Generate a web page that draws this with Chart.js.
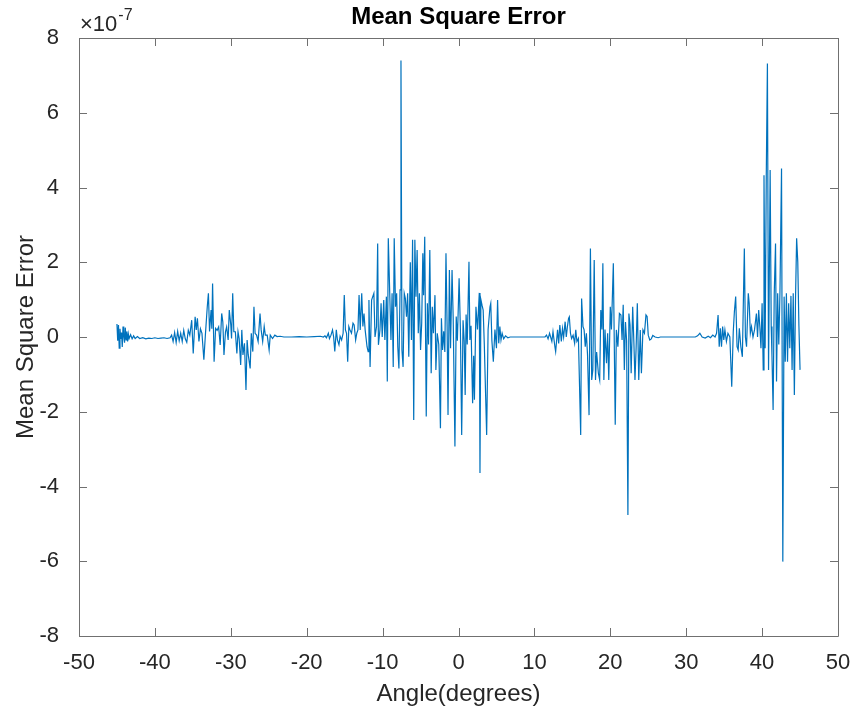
<!DOCTYPE html>
<html>
<head>
<meta charset="utf-8">
<script src="https://cdn.jsdelivr.net/npm/chart.js@4.4.1/dist/chart.umd.min.js"></script>
<style>
  html, body { margin: 0; padding: 0; background: #ffffff; }
  #wrap { width: 855px; height: 716px; }
</style>
</head>
<body>
<div id="wrap"><canvas id="chart" width="855" height="716"></canvas></div>
<script>
// Scan angle in degrees
const angles = [
  -45.0,-44.9,-44.8,-44.7,-44.6,-44.5,-44.4,-44.3,-44.2,-44.1,-44.0,-43.9,-43.8,-43.7,-43.6,-43.5,-43.4,-43.2,-43.0,-42.8,
  -42.6,-42.3,-42.0,-41.6,-41.2,-40.8,-40.4,-40.0,-39.6,-39.2,-38.8,-38.4,-38.0,-37.8,-37.6,-37.4,-37.2,-37.0,-36.8,-36.6,
  -36.4,-36.2,-36.0,-35.8,-35.6,-35.4,-35.15,-34.95,-34.7,-34.55,-34.4,-34.2,-34.0,-33.8,-33.55,-33.35,-33.1,-32.95,-32.8,-32.6,
  -32.5,-32.4,-32.2,-32.0,-31.8,-31.6,-31.4,-31.2,-31.05,-30.9,-30.7,-30.55,-30.35,-30.2,-30.0,-29.9,-29.75,-29.6,-29.4,-29.2,
  -29.05,-28.9,-28.7,-28.55,-28.4,-28.2,-28.0,-27.85,-27.7,-27.45,-27.3,-27.1,-26.95,-26.8,-26.6,-26.4,-26.15,-26.0,-25.8,-25.6,
  -25.45,-25.2,-24.95,-24.8,-24.5,-24.2,-23.9,-23.5,-23.0,-22.0,-21.0,-20.0,-19.0,-18.2,-17.8,-17.6,-17.4,-17.15,-17.0,-16.8,
  -16.6,-16.45,-16.3,-16.1,-15.95,-15.75,-15.6,-15.4,-15.2,-15.05,-14.9,-14.75,-14.6,-14.45,-14.3,-14.1,-13.9,-13.75,-13.55,-13.4,
  -13.25,-13.1,-12.95,-12.75,-12.6,-12.45,-12.3,-12.2,-12.05,-11.9,-11.8,-11.65,-11.45,-11.3,-11.15,-11.0,-10.8,-10.65,-10.55,-10.35,
  -10.2,-10.05,-9.85,-9.7,-9.5,-9.38,-9.25,-9.05,-8.9,-8.75,-8.6,-8.47,-8.3,-8.15,-8.0,-7.85,-7.7,-7.58,-7.45,-7.3,
  -7.15,-7.0,-6.85,-6.7,-6.55,-6.35,-6.2,-6.05,-5.9,-5.75,-5.6,-5.45,-5.3,-5.15,-5.0,-4.85,-4.7,-4.6,-4.45,-4.25,
  -4.1,-3.95,-3.78,-3.6,-3.45,-3.3,-3.1,-2.98,-2.8,-2.6,-2.38,-2.25,-2.1,-1.95,-1.8,-1.65,-1.5,-1.38,-1.2,-1.05,
  -0.85,-0.7,-0.47,-0.3,-0.15,0.08,0.25,0.42,0.6,0.75,0.88,1.0,1.15,1.38,1.5,1.65,1.86,2.0,2.1,2.3,
  2.5,2.74,2.83,2.95,3.1,3.25,3.4,3.71,3.9,4.15,4.25,4.4,4.59,4.8,5.0,5.15,5.3,5.45,5.6,5.75,
  5.95,6.2,6.5,6.8,7.5,8.5,9.5,10.5,11.4,11.6,11.8,12.0,12.3,12.45,12.7,12.8,13.05,13.2,13.35,13.55,
  13.7,13.85,14.05,14.2,14.35,14.5,14.6,14.75,14.9,15.1,15.3,15.45,15.6,15.8,16.1,16.22,16.4,16.55,16.7,16.85,
  17.0,17.2,17.38,17.55,17.7,17.88,18.05,18.2,18.43,18.6,18.75,18.9,19.02,19.15,19.3,19.5,19.65,19.8,20.0,20.15,
  20.4,20.65,20.8,21.0,21.2,21.4,21.55,21.7,21.85,22.0,22.15,22.32,22.45,22.6,22.75,22.95,23.1,23.25,23.4,23.56,
  23.75,23.95,24.1,24.3,24.5,24.7,24.85,25.0,25.2,25.4,25.6,25.9,26.3,26.6,27.5,28.5,29.5,30.5,31.2,31.5,
  31.8,32.1,32.5,32.9,33.2,33.5,33.8,34.0,34.2,34.35,34.5,34.65,34.8,34.95,35.1,35.3,35.5,35.75,36.0,36.2,
  36.35,36.52,36.7,36.85,37.0,37.2,37.4,37.66,37.8,37.95,38.18,38.3,38.45,38.6,38.8,39.0,39.25,39.4,39.55,39.7,
  39.85,40.0,40.15,40.25,40.4,40.55,40.7,40.85,41.06,41.2,41.3,41.45,41.6,41.77,41.9,42.05,42.2,42.35,42.56,42.73,
  42.9,43.05,43.2,43.35,43.5,43.65,43.8,43.95,44.1,44.25,44.4,44.55,44.7,44.85,45.0
];

// Mean square error at each angle, in units of 1e-7
const mseE7 = [
  0.35,-0.10,0.32,-0.30,0.22,-0.05,0.12,-0.27,0.28,0.02,-0.15,0.25,-0.08,0.15,-0.12,0.08,-0.04,0.06,-0.05,0.03,
  -0.04,0.01,-0.04,-0.02,-0.05,-0.03,-0.04,-0.02,-0.04,-0.03,-0.02,-0.04,-0.02,0.05,-0.12,0.12,-0.15,0.15,-0.10,0.10,
  -0.12,0.18,-0.05,-0.14,0.18,0.05,0.45,-0.44,0.54,0.19,0.50,-0.12,0.22,0.10,-0.61,0.05,0.81,1.17,0.15,0.72,
  0.22,1.43,-0.66,0.23,0.18,0.27,-0.21,0.63,0.40,-0.48,0.14,0.27,-0.08,0.72,0.32,-0.04,1.17,0.14,0.14,-0.44,
  0.14,-0.04,-0.75,0.19,-0.48,-0.17,-1.42,-0.08,-0.48,-0.84,0.10,-0.39,0.81,0.10,0.05,-0.12,0.63,0.19,-0.12,0.28,
  0.05,0.05,-0.35,0.05,-0.04,0.05,0.01,0.02,0.00,0.00,0.01,0.00,0.01,0.02,0.00,0.03,-0.02,0.10,-0.04,0.05,
  0.19,0.00,-0.39,0.19,-0.08,-0.21,0.02,-0.08,0.10,1.12,0.19,0.10,-0.66,0.28,0.19,0.10,0.37,0.32,-0.08,0.10,
  0.19,1.12,0.19,1.17,0.28,0.63,0.19,0.19,-0.26,-0.39,0.99,-0.80,0.99,1.08,1.17,0.00,0.28,2.50,-0.21,0.19,
  0.90,0.00,0.99,-0.08,1.08,-1.19,2.64,1.08,-0.08,1.17,-0.80,2.64,0.81,1.17,-0.26,-0.84,1.26,7.40,-0.35,-0.80,
  1.17,1.03,0.54,1.17,-0.53,2.00,-0.08,2.60,-2.22,2.60,1.08,2.33,0.10,1.17,-0.35,0.37,2.24,1.12,2.68,-2.13,
  0.90,-0.20,2.33,-0.97,0.81,0.10,1.12,-0.88,0.10,-0.20,-2.44,0.50,-0.35,0.15,-0.40,2.24,0.28,-2.09,1.79,-0.30,
  1.79,0.50,-2.93,0.55,-0.10,1.57,0.20,-2.62,0.45,-0.10,-1.55,0.60,-0.20,2.01,-0.08,0.30,-1.77,-0.50,-1.68,0.81,
  0.20,1.18,-3.64,1.00,0.85,0.72,-0.20,-2.62,0.20,0.81,0.90,-0.10,-0.66,0.20,-0.30,0.99,-0.17,0.28,-0.08,0.10,
  -0.05,0.03,-0.02,0.00,0.00,0.00,0.00,0.00,0.00,0.05,-0.05,0.10,-0.12,0.14,-0.26,-0.39,0.19,-0.17,0.32,-0.12,
  0.23,0.00,0.41,0.00,0.28,0.50,0.54,0.10,-0.04,0.05,-0.17,0.19,-0.12,-0.04,-2.62,1.03,0.28,0.19,-0.26,0.10,
  -0.48,-2.09,2.37,-1.15,-0.88,2.06,-1.15,-0.40,-0.97,-1.15,0.72,0.20,1.97,-1.15,0.20,-0.70,0.10,-1.15,0.81,0.20,
  1.97,-2.35,0.19,-0.26,0.63,0.59,-0.08,0.86,-0.88,0.40,-0.10,-4.76,0.63,0.32,-0.97,0.81,-0.10,-1.15,-0.30,0.90,
  -1.15,0.19,-0.97,0.19,0.10,0.59,0.55,0.05,-0.08,-0.05,0.04,0.00,-0.02,0.00,0.00,0.00,0.00,0.00,0.00,0.03,
  0.10,0.00,-0.03,0.02,-0.02,0.05,0.00,0.10,0.59,-0.26,0.23,-0.26,0.28,-0.08,0.19,-0.12,0.10,0.00,-1.33,0.14,
  0.68,1.08,-0.26,-0.35,0.23,-0.26,-0.53,2.37,0.00,-0.26,1.17,0.90,0.10,0.28,0.00,0.19,0.63,0.00,0.72,0.28,
  -0.30,0.90,-0.88,4.33,-0.30,4.33,7.32,-0.88,4.47,0.28,-0.50,-1.95,1.17,2.50,-1.19,1.17,-0.20,1.17,4.51,-6.01,
  1.08,-0.66,1.17,-0.66,0.90,-0.30,1.10,-0.88,1.17,-1.55,1.00,2.64,2.01,0.30,-0.88
];

const xTicks = [-50, -40, -30, -20, -10, 0, 10, 20, 30, 40, 50];
const yTicks = [-8, -6, -4, -2, 0, 2, 4, 6, 8];

const FONT = '"Liberation Sans", Arial, Helvetica, sans-serif';
const TEXT = '#262626';
const AXIS = '#707070';
const LINE = '#0072BD';

const points = angles.map((a, i) => ({ x: a, y: mseE7[i] }));

// Box around the axes, inward tick marks, titles and the exponent label
const decorations = {
  id: 'decorations',
  afterDraw(chart) {
    const { ctx, chartArea: a, scales } = chart;
    const xs = scales.x, ys = scales.y;
    const len = 8;
    ctx.save();
    ctx.strokeStyle = AXIS;
    ctx.lineWidth = 1;
    ctx.beginPath();
    ctx.rect(Math.round(a.left) + 0.5, Math.round(a.top) + 0.5,
             Math.round(a.right - a.left), Math.round(a.bottom - a.top));
    xTicks.forEach(v => {
      const p = Math.round(xs.getPixelForValue(v)) + 0.5;
      ctx.moveTo(p, a.bottom); ctx.lineTo(p, a.bottom - len);
      ctx.moveTo(p, a.top); ctx.lineTo(p, a.top + len);
    });
    yTicks.forEach(v => {
      const p = Math.round(ys.getPixelForValue(v)) + 0.5;
      ctx.moveTo(a.left, p); ctx.lineTo(a.left + len, p);
      ctx.moveTo(a.right, p); ctx.lineTo(a.right - len, p);
    });
    ctx.stroke();

    // title
    ctx.font = 'bold 24px ' + FONT;
    ctx.textAlign = 'center';
    ctx.textBaseline = 'middle';
    ctx.fillStyle = '#000000';
    ctx.fillText('Mean Square Error', (a.left + a.right) / 2, 17);
    // x axis title
    ctx.fillStyle = TEXT;
    ctx.font = '24px ' + FONT;
    ctx.fillText('Angle(degrees)', (a.left + a.right) / 2, 694);
    // y axis title
    ctx.save();
    ctx.translate(26, (a.top + a.bottom) / 2);
    ctx.rotate(-Math.PI / 2);
    ctx.fillText('Mean Square Error', 0, 0);
    ctx.restore();
    // exponent
    ctx.textAlign = 'left';
    ctx.textBaseline = 'alphabetic';
    ctx.font = '22px ' + FONT;
    ctx.fillText('\u00D710', a.left + 1, 31);
    const w = ctx.measureText('\u00D710').width;
    ctx.font = '16px ' + FONT;
    ctx.fillText('-7', a.left + 1 + w + 1, 20);
    ctx.restore();
  }
};

new Chart(document.getElementById('chart'), {
  type: 'line',
  data: {
    datasets: [{
      data: points,
      borderColor: LINE,
      borderWidth: 1.2,
      pointRadius: 0,
      tension: 0,
      fill: false
    }]
  },
  options: {
    responsive: false,
    animation: false,
    devicePixelRatio: 1,
    layout: { padding: { top: 38, right: 17, left: 0, bottom: 0 } },
    plugins: { legend: { display: false }, tooltip: { enabled: false }, title: { display: false } },
    scales: {
      x: {
        type: 'linear',
        min: -50, max: 50,
        afterBuildTicks: s => { s.ticks = xTicks.map(v => ({ value: v })); },
        afterFit: s => { s.height = 80; s.paddingLeft = 0; s.paddingRight = 0; },
        grid: { display: false, drawTicks: false },
        border: { display: false },
        ticks: { color: TEXT, font: { family: FONT, size: 22 }, padding: 14, maxRotation: 0, autoSkip: false }
      },
      y: {
        type: 'linear',
        min: -8, max: 8,
        afterBuildTicks: s => { s.ticks = yTicks.map(v => ({ value: v })); },
        afterFit: s => { s.width = 79; s.paddingTop = 0; s.paddingBottom = 0; },
        grid: { display: false, drawTicks: false },
        border: { display: false },
        ticks: { color: TEXT, font: { family: FONT, size: 22 }, padding: 20, autoSkip: false }
      }
    }
  },
  plugins: [decorations]
});
</script>
</body>
</html>
